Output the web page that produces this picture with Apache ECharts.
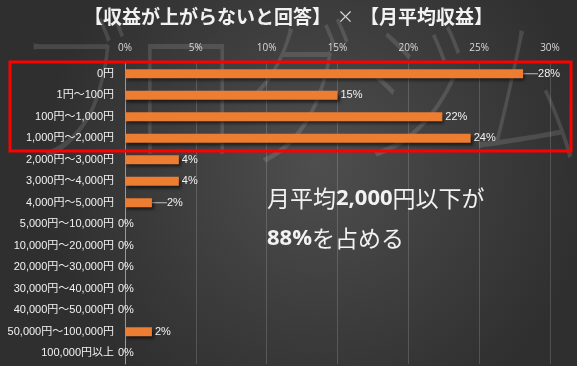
<!DOCTYPE html>
<html><head><meta charset="utf-8">
<script src="https://cdn.jsdelivr.net/npm/echarts@6/dist/echarts.min.js"></script>
<style>html,body{margin:0;padding:0;background:#3c3c3c}#c{width:577px;height:366px}</style>
</head><body><div id="c"></div>
<script>
const categories = ['0円','1円～100円','100円～1,000円','1,000円～2,000円','2,000円～3,000円','3,000円～4,000円','4,000円～5,000円','5,000円～10,000円','10,000円～20,000円','20,000円～30,000円','30,000円～40,000円','40,000円～50,000円','50,000円～100,000円','100,000円以上'];
const values = [28.1, 15.0, 22.4, 24.4, 3.8, 3.8, 1.9, 0, 0, 0, 0, 0, 1.9, 0];
const leaderIdx = [0, 6];
const tickMax = 30, tickStep = 5;

const chart = echarts.init(document.getElementById('c'), null, {renderer:'canvas'});
const jp = '"Noto Sans CJK JP","Noto Sans",sans-serif';
const lab = '"Liberation Sans","Noto Sans CJK JP",sans-serif';
const data = values.map((v, i) => {
  const d = {value: v};
  if (leaderIdx.includes(i)) d.labelLine = {show: true};
  return d;
});
chart.setOption({
  backgroundColor: {type:'radial', x:0.55, y:0.45, r:0.75, colorStops:[{offset:0,color:'#4e4e4e'},{offset:1,color:'#2f2f2f'}]},
  textStyle: {fontFamily: jp},
  graphic: [
    {type:'text', x:16, y:8, silent:true, z:0, scaleX:0.82, scaleY:1.2, style:{text:'ブログジム', fontFamily:'"Noto Sans CJK JP"', fontSize:138, fontWeight:'lighter', fill:'rgba(255,255,255,0.12)'}},
    {type:'text', left:'center', top:7, style:{
      rich:{a:{fontFamily:jp, fontWeight:'bold', fontSize:19, fill:'#f2f2f2'}, x:{fontFamily:jp, fontSize:17, fill:'#d9d9d9', padding:[0,6,0,6]}},
      text:'{a|【収益が上がらないと回答】}{x|×}{a|【月平均収益】}'
    }},
    {type:'rect', shape:{x:10, y:62, width:561, height:89}, style:{fill:'none', stroke:'#ff0000', lineWidth:3}, z:10},
    {type:'text', left:267, top:187, style:{
      rich:{j:{fontFamily:jp, fontSize:23, fill:'#f2f2f2'}, n:{fontFamily:'"Open Sans",sans-serif', fontWeight:'bold', fontSize:22, fill:'#f2f2f2'}},
      text:'{j|月平均}{n|2,000}{j|円以下が}'
    }},
    {type:'text', left:267, top:227, style:{
      rich:{j:{fontFamily:jp, fontSize:23, fill:'#f2f2f2'}, n:{fontFamily:'"Open Sans",sans-serif', fontWeight:'bold', fontSize:22, fill:'#f2f2f2'}},
      text:'{n|88%}{j|を占める}'
    }}
  ],
  grid: {left:125, right:27, top:63, bottom:2, containLabel:false},
  xAxis: {type:'value', position:'top', min:0, max:tickMax, interval:tickStep,
    axisLabel:{formatter:'{value}%', color:'#d9d9d9', fontSize:10, margin:10, fontFamily:'"Open Sans",sans-serif'},
    splitLine:{lineStyle:{color:'rgba(255,255,255,0.16)', width:1}},
    axisLine:{show:false}, axisTick:{show:false}},
  yAxis: {type:'category', data:categories, inverse:true,
    axisLine:{show:true, lineStyle:{color:'#9a9a9a'}}, axisTick:{show:false},
    axisLabel:{color:'#f2f2f2', fontSize:11, margin:11, fontFamily:lab}},
  series: [{
    type:'bar', data:data, barWidth:9,
    itemStyle:{color:'#ed7d31', shadowColor:'rgba(0,0,0,0.55)', shadowBlur:3, shadowOffsetX:2, shadowOffsetY:3},
    label:{show:true, position:'right', distance:3, color:'#f2f2f2', fontSize:11, fontFamily:lab,
      formatter: p => Math.round(p.value) + '%'},
    labelLine:{show:false, lineStyle:{color:'#bfbfbf', width:1}},
    labelLayout: p => leaderIdx.includes(p.dataIndex) ? {dx: 12} : (values[p.dataIndex] === 0 ? {dx: -10} : {})
  }]
});
</script></body></html>
